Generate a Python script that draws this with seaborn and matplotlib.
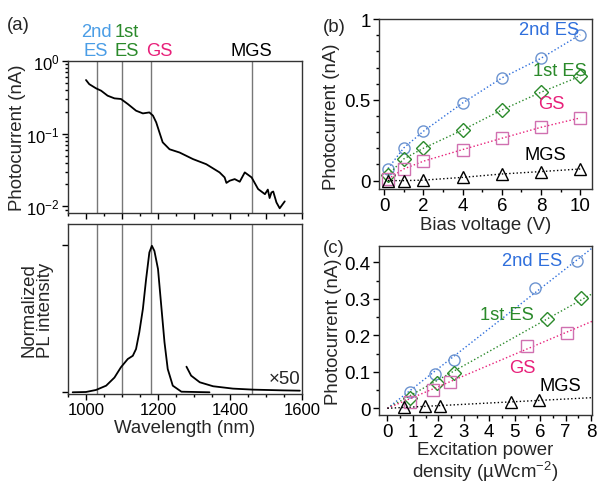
import matplotlib
matplotlib.use('Agg')
import matplotlib.pyplot as plt
import matplotlib.transforms as mtransforms
from matplotlib.ticker import MultipleLocator, LogLocator, NullFormatter, FixedLocator
import numpy as np
import seaborn as sns

# (a) top: photocurrent spectrum
pc_wl = [1000, 1009, 1028, 1042, 1060, 1079, 1097, 1116, 1139, 1158, 1176, 1186,
         1195, 1204, 1213, 1232, 1260, 1297, 1334, 1371, 1385, 1390, 1399, 1413,
         1427, 1441, 1460, 1478, 1497, 1505, 1510, 1515, 1520, 1529, 1538, 1552]
pc_val = [0.547, 0.48, 0.42, 0.39, 0.333, 0.306, 0.30, 0.256, 0.207, 0.19, 0.196, 0.177,
          0.143, 0.104, 0.076, 0.061, 0.055, 0.0447, 0.038, 0.0293, 0.025, 0.021, 0.0225, 0.0237,
          0.0218, 0.0293, 0.025, 0.0173, 0.0147, 0.017, 0.013, 0.0155, 0.016, 0.0113, 0.0094, 0.0117]

# (a) bottom: PL spectrum and x50 tail
pl_wl = [963, 1000, 1028, 1056, 1079, 1097, 1116, 1130, 1139, 1148, 1158, 1167, 1176,
         1183, 1190, 1200, 1209, 1218, 1227, 1241, 1265, 1343]
pl_val = [0.0, 0.002, 0.016, 0.045, 0.10, 0.17, 0.226, 0.248, 0.294, 0.407, 0.566, 0.77, 0.95,
          0.995, 0.96, 0.837, 0.588, 0.34, 0.158, 0.045, 0.004, 0.0]
tail_wl = [1279, 1292, 1316, 1353, 1408, 1464, 1548, 1594]
tail_val = [0.174, 0.113, 0.068, 0.041, 0.025, 0.018, 0.013, 0.011]

state_names = ['2nd\nES', '1st\nES', 'GS', 'MGS']
state_wl = [1030, 1100, 1180, 1460]
state_label_x = [1028, 1112, 1203, 1460]

# (b) bias dependence
bias = [0.2, 1, 2, 4, 6, 8, 10]
bias_es2 = [0.075, 0.202, 0.305, 0.48, 0.635, 0.757, 0.903]
bias_es1 = [0.035, 0.134, 0.20, 0.313, 0.437, 0.547, 0.646]
bias_gs = [0.01, 0.072, 0.12, 0.192, 0.262, 0.33, 0.388]
bias_mgs = [0.0, 0.0, 0.003, 0.02, 0.041, 0.056, 0.072]

# (c) excitation power dependence
p_es2 = [0.89, 1.88, 2.6, 5.81, 7.45]
i_es2 = [0.044, 0.094, 0.133, 0.329, 0.404]
p_es1 = [0.89, 1.94, 2.62, 6.25, 7.61]
i_es1 = [0.027, 0.068, 0.097, 0.245, 0.301]
p_gs = [0.89, 1.78, 2.47, 5.46, 7.06]
i_gs = [0.016, 0.051, 0.073, 0.17, 0.205]
p_mgs = [0.67, 1.48, 2.07, 4.87, 5.97]
i_mgs = [0.003, 0.005, 0.006, 0.018, 0.022]

blue_txt = '#2f6fdc'
blue_top = '#4a9de6'
blue_mk = '#6d94d0'
green = '#2b8a2b'
pink_txt = '#e8207a'
pink_mk = '#d070b0'

sns.set_theme(style='ticks')
plt.rcParams['font.family'] = ['Liberation Sans', 'DejaVu Sans']
plt.rcParams['mathtext.fontset'] = 'custom'
plt.rcParams['mathtext.rm'] = 'Liberation Sans'
plt.rcParams['mathtext.it'] = 'Liberation Sans:italic'
plt.rcParams['axes.linewidth'] = 1.0
plt.rcParams['axes.edgecolor'] = 'black'

fig = plt.figure(figsize=(5.97, 4.85), dpi=100)
ax_pc = fig.add_axes([0.1139, 0.5588, 0.392, 0.3134])
ax_pl = fig.add_axes([0.1139, 0.1856, 0.392, 0.3505])
ax_b = fig.add_axes([0.6348, 0.6082, 0.3568, 0.3505])
ax_c = fig.add_axes([0.6348, 0.1429, 0.3568, 0.3478])

LAB = 13.4
TXT = 13.2

for ax, ts in ((ax_pc, 12), (ax_pl, 12), (ax_b, 13.5), (ax_c, 13.5)):
    ax.tick_params(which='both', direction='out', top=False, right=False,
                   labelsize=ts, colors='black', width=1, pad=2)
    ax.tick_params(which='major', length=4)
    ax.tick_params(which='minor', length=2.5)
    for sp in ax.spines.values():
        sp.set_visible(True)
        sp.set_color('#333333')

# ---- (a) top
sns.lineplot(x=pc_wl, y=pc_val, ax=ax_pc, color='black', lw=1.3, sort=False)
ax_pc.set_yscale('log')
ax_pc.set_ylim(0.0081, 1.0)
ax_pc.set_xlim(950, 1600)
ax_pc.yaxis.set_major_locator(FixedLocator([1e-2, 1e-1, 1e0]))
ax_pc.yaxis.set_minor_locator(LogLocator(base=10, subs=np.arange(2, 10)))
ax_pc.yaxis.set_minor_formatter(NullFormatter())
ax_pc.xaxis.set_major_locator(MultipleLocator(100))
ax_pc.xaxis.set_minor_locator(MultipleLocator(50))
ax_pc.set_xticklabels([])
ax_pc.set_ylabel('Photocurrent (nA)', fontsize=LAB, labelpad=0)

# ---- (a) bottom
sns.lineplot(x=pl_wl, y=pl_val, ax=ax_pl, color='black', lw=1.3, sort=False)
sns.lineplot(x=tail_wl, y=tail_val, ax=ax_pl, color='black', lw=1.3, sort=False)
ax_pl.set_xlim(950, 1600)
ax_pl.set_ylim(-0.0115, 1.143)
ax_pl.xaxis.set_major_locator(MultipleLocator(200))
ax_pl.xaxis.set_minor_locator(MultipleLocator(50))
ax_pl.set_yticks([0, 1])
ax_pl.set_yticklabels([])
ax_pl.set_xlabel('Wavelength (nm)', fontsize=LAB, labelpad=1)
ax_pl.set_ylabel('Normalized\nPL intensity', fontsize=LAB, labelpad=4, linespacing=1.0)
ax_pl.text(1597, 0.097, '\u00d750', fontsize=LAB, ha='right', va='center')

for ax in (ax_pc, ax_pl):
    for w in state_wl:
        ax.axvline(w, color='#777777', lw=1.0, zorder=0)

state_colors = [blue_top, green, pink_txt, 'black']
trans = mtransforms.blended_transform_factory(ax_pc.transData, ax_pc.transAxes)
for name, x, c in zip(state_names, state_label_x, state_colors):
    ax_pc.text(x, 1.015, name, transform=trans, color=c, fontsize=TXT,
               ha='center', va='bottom', linespacing=1.1)

# ---- (b)
series_b = [
    (bias_es2, 'o', blue_mk, blue_txt),
    (bias_es1, 'D', green, green),
    (bias_gs, 's', pink_mk, pink_txt),
    (bias_mgs, '^', 'black', 'black'),
]
for vals, mk, c, lc in series_b:
    sns.lineplot(x=bias, y=vals, ax=ax_b, color=lc, lw=1.0, linestyle=':',
                 marker=mk, markersize=8 if mk != 'D' else 7, markerfacecolor='none',
                 markeredgecolor=c, markeredgewidth=1.0)
ax_b.set_xlim(-0.26, 10.6)
ax_b.set_ylim(-0.052, 1.0)
ax_b.xaxis.set_major_locator(MultipleLocator(2))
ax_b.xaxis.set_minor_locator(MultipleLocator(1))
ax_b.set_yticks([0, 0.5, 1])
ax_b.set_yticklabels(['0', '0.5', '1'])
ax_b.yaxis.set_minor_locator(MultipleLocator(0.1))
ax_b.set_xlabel('Bias voltage (V)', fontsize=LAB, labelpad=1)
ax_b.set_ylabel('Photocurrent (nA)', fontsize=LAB)
ax_b.yaxis.set_label_coords(-0.183, 0.43)
ax_b.text(8.4, 0.935, '2nd ES', color=blue_txt, fontsize=TXT, ha='center', va='center')
ax_b.text(8.95, 0.68, '1st ES', color=green, fontsize=TXT, ha='center', va='center')
ax_b.text(8.55, 0.475, 'GS', color=pink_txt, fontsize=TXT, ha='center', va='center')
ax_b.text(8.2, 0.16, 'MGS', color='black', fontsize=TXT, ha='center', va='center')

# ---- (c)
series_c = [
    (p_es2, i_es2, 'o', blue_mk, blue_txt),
    (p_es1, i_es1, 'D', green, green),
    (p_gs, i_gs, 's', pink_mk, pink_txt),
    (p_mgs, i_mgs, '^', 'black', 'black'),
]
fit_x = np.array([0.0, 8.1])
for px, iy, mk, c, lc in series_c:
    px = np.asarray(px)
    iy = np.asarray(iy)
    slope = np.sum(px * iy) / np.sum(px * px)
    sns.lineplot(x=fit_x, y=slope * fit_x, ax=ax_c, color=lc, lw=1.0, linestyle=':')
    sns.lineplot(x=px, y=iy, ax=ax_c, linestyle='', marker=mk,
                 markersize=8 if mk != 'D' else 7, markerfacecolor='none',
                 markeredgecolor=c, markeredgewidth=1.0, color=c)
ax_c.set_xlim(-0.33, 8.03)
ax_c.set_ylim(-0.0175, 0.4447)
ax_c.xaxis.set_major_locator(MultipleLocator(1))
ax_c.xaxis.set_minor_locator(MultipleLocator(0.5))
ax_c.set_yticks([0, 0.1, 0.2, 0.3, 0.4])
ax_c.set_yticklabels(['0', '0.1', '0.2', '0.3', '0.4'])
ax_c.yaxis.set_minor_locator(MultipleLocator(0.05))
ax_c.set_xlabel('Excitation power\ndensity (\u00b5Wcm$^{-2}$)', fontsize=LAB, labelpad=1,
                linespacing=1.05)
ax_c.set_ylabel('Photocurrent (nA)', fontsize=LAB, labelpad=2)
ax_c.text(5.7, 0.405, '2nd ES', color=blue_txt, fontsize=TXT, ha='center', va='center')
ax_c.text(4.7, 0.256, '1st ES', color=green, fontsize=TXT, ha='center', va='center')
ax_c.text(5.3, 0.113, 'GS', color=pink_txt, fontsize=TXT, ha='center', va='center')
ax_c.text(6.8, 0.063, 'MGS', color='black', fontsize=TXT, ha='center', va='center')

fig.text(0.012, 0.948, '(a)', fontsize=LAB, ha='left', va='center')
fig.text(0.540, 0.944, '(b)', fontsize=LAB, ha='left', va='center')
fig.text(0.540, 0.488, '(c)', fontsize=LAB, ha='left', va='center')

fig.savefig('out.png', dpi=100)
